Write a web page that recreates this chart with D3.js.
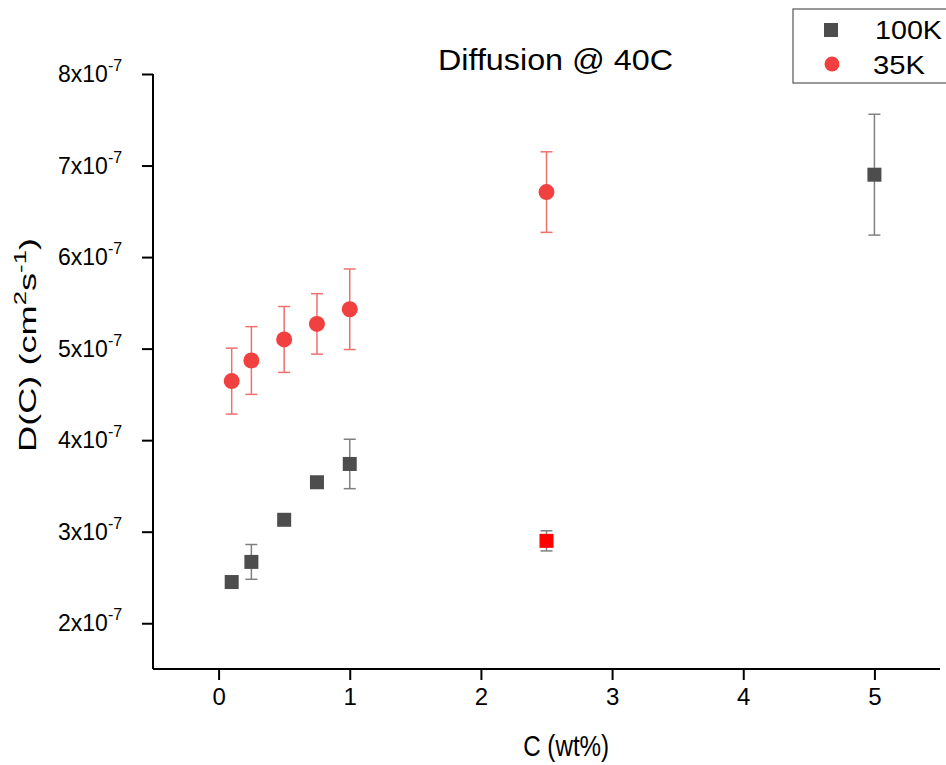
<!DOCTYPE html>
<html lang="en">
<head>
  <meta charset="UTF-8">
  <title>Diffusion @ 40C</title>
  <script src="https://d3js.org/d3.v7.min.js"></script>
  <style>
    body { margin: 0; background: #fff; }
    svg { font-family: "Liberation Sans", Arial, sans-serif; }
  </style>
</head>
<body>
  <div id="chart"></div>

  <script>
    // Data (D in units of 1e-7 cm^2/s)
    const conc100K = [0.1, 0.25, 0.5, 0.75, 1.0, 2.5, 5.0];
    const diff100K = [2.45, 2.67, 3.13, 3.54, 3.74, 2.90, 6.90];
    const err100K  = [0, 0.19, 0, 0, 0.27, 0.11, 0.66];
    const fill100K = ["#4d4d4d", "#4d4d4d", "#4d4d4d", "#4d4d4d", "#4d4d4d", "#ff0000", "#4d4d4d"];

    const conc35K = [0.1, 0.25, 0.5, 0.75, 1.0, 2.5];
    const diff35K = [4.645, 4.87, 5.10, 5.27, 5.43, 6.71];
    const err35K  = [0.36, 0.37, 0.36, 0.33, 0.44, 0.44];

    const xTicks = [0, 1, 2, 3, 4, 5];
    const yTicks = [2, 3, 4, 5, 6, 7, 8];

    const W = 946, H = 765;
    const margin = { top: 74, right: 6, bottom: 96, left: 153 };
    const width = W - margin.left - margin.right;
    const height = H - margin.top - margin.bottom;

    const svg = d3.select("#chart").append("svg")
      .attr("width", W)
      .attr("height", H);

    const g = svg.append("g")
      .attr("transform", "translate(" + margin.left + "," + margin.top + ")");

    const x = d3.scaleLinear().domain([-0.5, 5.5]).range([0, width]);
    const y = d3.scaleLinear().domain([1.5, 8]).range([height, 0]);

    // x axis with major + minor ticks
    const xAxis = g.append("g").attr("transform", "translate(0," + height + ")");
    xAxis.call(d3.axisBottom(x).tickValues(d3.range(-0.5, 5.51, 0.5)).tickSize(5).tickFormat(""));
    xAxis.call(d3.axisBottom(x).tickValues(xTicks).tickSize(11).tickPadding(8).tickFormat(d3.format("d")));
    xAxis.selectAll(".domain").attr("stroke", "#000").attr("stroke-width", 2).attr("d", "M0,0H" + width);
    xAxis.selectAll(".tick line").attr("stroke", "#000").attr("stroke-width", 2);
    xAxis.selectAll(".tick text")
      .style("font-size", "24px")
      .attr("fill", "#000");

    // y axis with major + minor ticks
    const yAxis = g.append("g");
    yAxis.call(d3.axisLeft(y).tickValues(d3.range(1.5, 8.01, 0.5)).tickSize(6).tickFormat(""));
    yAxis.call(d3.axisLeft(y).tickValues(yTicks).tickSize(11).tickFormat(""));
    yAxis.selectAll(".domain").attr("stroke", "#000").attr("stroke-width", 2).attr("d", "M0," + height + "V0");
    yAxis.selectAll(".tick line").attr("stroke", "#000").attr("stroke-width", 2);

    // y tick labels with superscript exponent
    const yLab = g.append("g");
    yTicks.forEach(v => {
      const t = yLab.append("text")
        .attr("x", -95)
        .attr("y", y(v) + 8)
        .style("font-size", "23px")
        .attr("fill", "#000");
      t.append("tspan").text(v + "x10");
      t.append("tspan").attr("dy", -11).style("font-size", "16px").text("-7");
    });

    // axis titles
    svg.append("text")
      .attr("x", margin.left + x(2.65))
      .attr("y", 756)
      .attr("text-anchor", "middle")
      .attr("textLength", 86)
      .attr("lengthAdjust", "spacingAndGlyphs")
      .style("font-size", "30px")
      .text("C (wt%)");

    const yTitle = svg.append("text")
      .attr("transform", "translate(36,345) rotate(-90)")
      .attr("text-anchor", "middle")
      .attr("textLength", 214)
      .attr("lengthAdjust", "spacingAndGlyphs")
      .style("font-size", "24px");
    yTitle.append("tspan").text("D(C) (cm");
    yTitle.append("tspan").attr("dy", -10).style("font-size", "17px").text("2");
    yTitle.append("tspan").attr("dy", 10).text("s");
    yTitle.append("tspan").attr("dy", -10).style("font-size", "17px").text("-1");
    yTitle.append("tspan").attr("dy", 10).text(")");

    // chart title
    svg.append("text")
      .attr("x", 438)
      .attr("y", 70)
      .attr("textLength", 235)
      .attr("lengthAdjust", "spacingAndGlyphs")
      .style("font-size", "29px")
      .text("Diffusion @ 40C");

    // error bars
    function errorBars(xs, ys, es, color) {
      const eg = g.append("g");
      xs.forEach((cx, i) => {
        if (!es[i]) return;
        const px = x(cx), top = y(ys[i] + es[i]), bot = y(ys[i] - es[i]);
        eg.append("line").attr("x1", px).attr("x2", px).attr("y1", top).attr("y2", bot)
          .attr("stroke", color).attr("stroke-width", 1.5);
        [top, bot].forEach(py => eg.append("line")
          .attr("x1", px - 6).attr("x2", px + 6).attr("y1", py).attr("y2", py)
          .attr("stroke", color).attr("stroke-width", 1.5));
      });
    }
    errorBars(conc35K, diff35K, err35K, "#f07070");
    errorBars(conc100K, diff100K, err100K, "#808080");

    // 100K squares
    const sq = 14;
    g.selectAll(".sq").data(conc100K).enter().append("rect")
      .attr("class", "sq")
      .attr("x", d => x(d) - sq / 2)
      .attr("y", (d, i) => y(diff100K[i]) - sq / 2)
      .attr("width", sq).attr("height", sq)
      .attr("fill", (d, i) => fill100K[i]);

    // 35K circles
    g.selectAll(".pt").data(conc35K).enter().append("circle")
      .attr("class", "pt")
      .attr("cx", d => x(d))
      .attr("cy", (d, i) => y(diff35K[i]))
      .attr("r", 8)
      .attr("fill", "#f04040");

    // legend
    const leg = svg.append("g").attr("transform", "translate(793,9)");
    leg.append("rect").attr("width", 160).attr("height", 74)
      .attr("fill", "#fff").attr("stroke", "#555").attr("stroke-width", 1.2);
    leg.append("rect").attr("x", 31).attr("y", 14).attr("width", 14).attr("height", 14).attr("fill", "#4d4d4d");
    leg.append("circle").attr("cx", 39).attr("cy", 55).attr("r", 7.5).attr("fill", "#f04040");
    leg.append("text").attr("x", 82).attr("y", 30).style("font-size", "25px")
      .attr("textLength", 67).attr("lengthAdjust", "spacingAndGlyphs").text("100K");
    leg.append("text").attr("x", 80).attr("y", 65).style("font-size", "25px")
      .attr("textLength", 52).attr("lengthAdjust", "spacingAndGlyphs").text("35K");
  </script>
</body>
</html>
